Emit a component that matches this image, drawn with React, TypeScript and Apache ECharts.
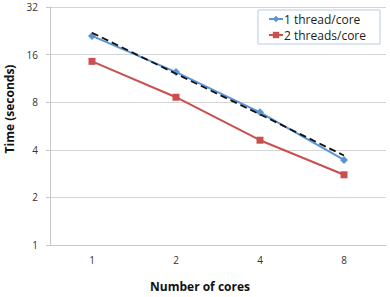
import React, { useEffect, useRef } from "react";
import * as echarts from "echarts";

const cores = ["1", "2", "4", "8"];
const oneThread = [21, 12.4, 6.9, 3.45];
const twoThreads = [14.5, 8.6, 4.6, 2.78];
const trend = [22, 12.1, 6.7, 3.68];
const yTicks = [1, 2, 4, 8, 16, 32];

export default function App() {
  const ref = useRef<HTMLDivElement>(null);
  useEffect(() => {
    const chart = echarts.init(ref.current!, null, { renderer: "svg" });
    const font = "Open Sans";
    chart.setOption({
      animation: false,
      textStyle: { fontFamily: font },
      grid: {
        left: 50,
        right: 4,
        top: 7,
        bottom: 52,
        containLabel: false,
        outerBoundsMode: "none",
      },
      legend: {
        orient: "vertical",
        left: 258,
        top: 10,
        width: 119,
        padding: [3, 14, 3, 10],
        itemGap: 4,
        itemWidth: 14,
        itemHeight: 8,
        borderColor: "#b9cde5",
        borderWidth: 1,
        data: ["1 thread/core", "2 threads/core"],
        textStyle: { fontFamily: font, fontSize: 12, color: "#222", padding: [0, 0, 0, -4] },
      },
      xAxis: {
        type: "category",
        data: cores,
        boundaryGap: true,
        name: "Number of cores",
        nameLocation: "middle",
        nameGap: 35,
        nameTextStyle: {
          fontFamily: font,
          fontSize: 12,
          fontWeight: "bold",
          color: "#111",
          padding: [0, 36, 0, 0],
        },
        axisLine: { lineStyle: { color: "#c8c8c8" } },
        axisTick: { alignWithLabel: true, inside: true, length: 3, lineStyle: { color: "#c8c8c8" } },
        axisLabel: { fontSize: 10, color: "#333", margin: 10 },
      },
      yAxis: {
        type: "log",
        logBase: 2,
        min: yTicks[0],
        max: yTicks[yTicks.length - 1],
        name: "Time (seconds)",
        nameLocation: "middle",
        nameGap: 33,
        nameTextStyle: {
          fontFamily: font,
          fontSize: 12,
          fontWeight: "bold",
          color: "#111",
          padding: [0, 0, 0, 34],
        },
        axisLine: { show: true, lineStyle: { color: "#c8c8c8" } },
        axisTick: { show: true, length: 4, lineStyle: { color: "#c8c8c8" } },
        axisLabel: { fontSize: 10, color: "#333", margin: 12 },
        splitLine: { lineStyle: { color: "#d4d4d4" } },
        minorTick: { show: false },
      },
      series: [
        {
          name: "1 thread/core",
          type: "line",
          data: oneThread,
          symbol: "diamond",
          symbolSize: 8,
          color: "#5b94d3",
          lineStyle: { width: 2, color: "#5b94d3" },
          z: 3,
        },
        {
          name: "2 threads/core",
          type: "line",
          data: twoThreads,
          symbol: "rect",
          symbolSize: 7,
          color: "#c9504e",
          lineStyle: { width: 2, color: "#c9504e" },
          z: 3,
        },
        {
          name: "trend",
          type: "line",
          data: trend,
          symbol: "none",
          lineStyle: { width: 1.8, color: "#111", type: [7, 4] },
          color: "#111",
          z: 4,
        },
      ],
    });
    return () => chart.dispose();
  }, []);
  return (
    <div
      ref={ref}
      style={{ width: 390, height: 297, position: "absolute", left: 0, top: 0 }}
    />
  );
}
